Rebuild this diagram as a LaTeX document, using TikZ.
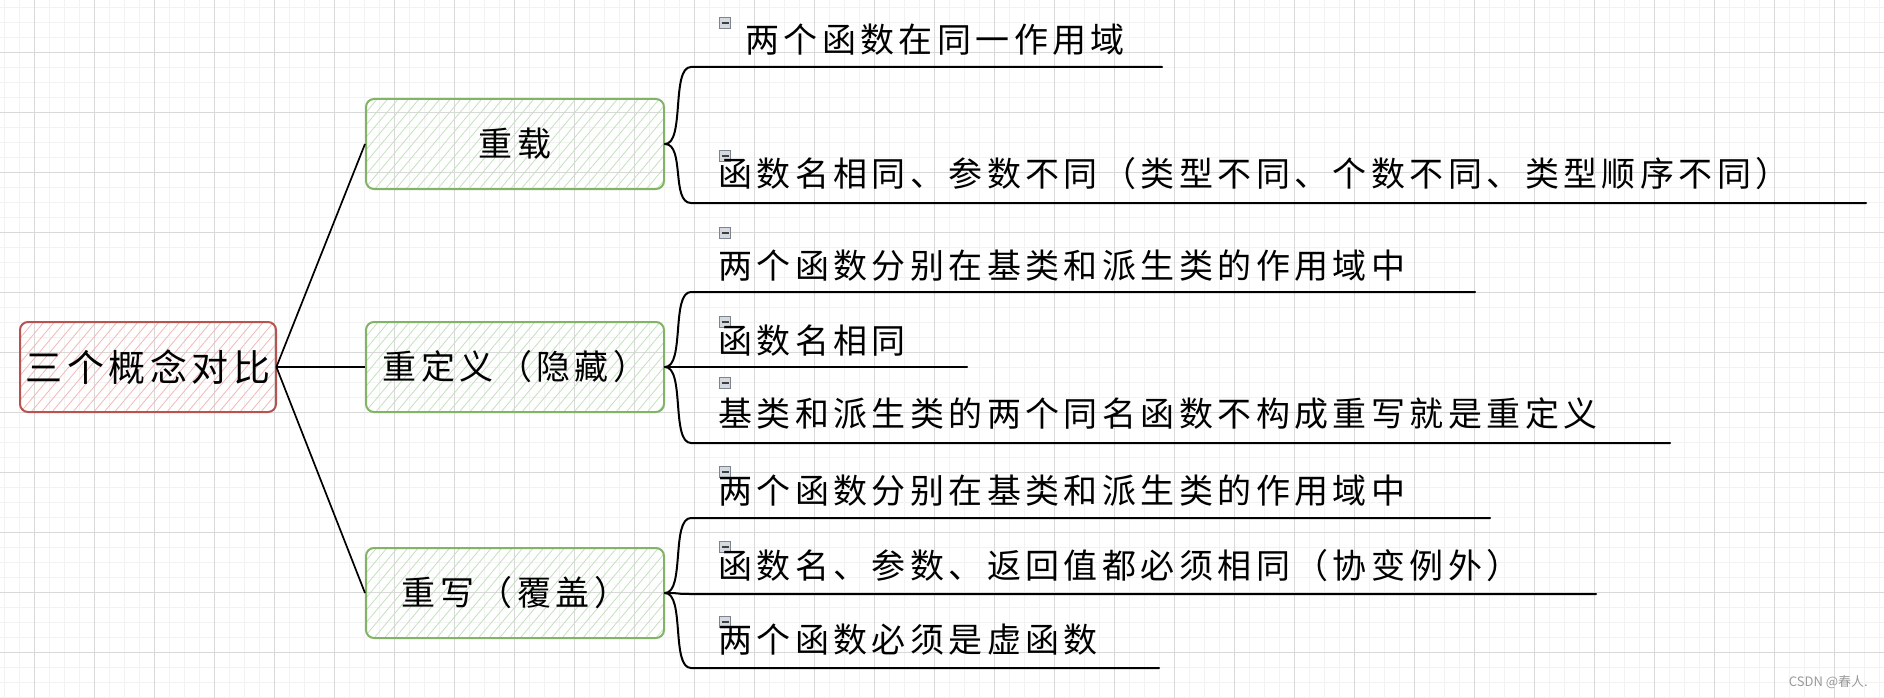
\documentclass[tikz,border=0pt]{standalone}
\usepackage{fontspec}
\newfontfamily\cjk[LetterSpace=13]{Noto Sans CJK SC}
\newfontfamily\cjkroot[LetterSpace=12]{Noto Sans CJK SC}
\newfontfamily\cjkplain{Noto Sans CJK SC}
\usepackage{tikz}
\usetikzlibrary{patterns.meta}

\definecolor{rootred}{HTML}{B85450}
\definecolor{roothatch}{HTML}{F0B8B6}
\definecolor{leafgreen}{HTML}{82B366}
\definecolor{leafhatch}{HTML}{C3E0BE}
\definecolor{gridmajor}{HTML}{D9D9D9}
\definecolor{gridminor}{HTML}{F2F2F2}
\definecolor{foldgray}{HTML}{7E848E}
\definecolor{foldfill}{HTML}{D5D9E0}

\tikzset{
  rootbox/.style={draw=rootred, line width=2pt, rounded corners=8pt,
    pattern={Lines[angle=50,distance=8pt,line width=0.8pt]}, pattern color=roothatch,
    minimum width=256pt, minimum height=90pt, inner sep=0pt,
    font=\cjkroot\fontsize{37}{42}\selectfont},
  conceptbox/.style={draw=leafgreen, line width=2pt, rounded corners=8pt,
    pattern={Lines[angle=50,distance=8pt,line width=0.8pt]}, pattern color=leafhatch,
    minimum width=298pt, minimum height=90pt, inner sep=0pt,
    font=\cjk\fontsize{34}{40}\selectfont},
  leaf/.style={anchor=west, inner sep=0pt, font=\cjk\fontsize{34}{40}\selectfont},
  fold/.style={draw=foldgray, fill=foldfill, minimum size=11pt, inner sep=0pt, line width=0.8pt,
    path picture={\draw[line width=1.5pt, black!75]
      ([xshift=-3.5pt]path picture bounding box.center) -- ([xshift=3.5pt]path picture bounding box.center);}},
  stem/.style={line width=1.7pt},
  branch/.style={line width=2pt, line cap=round},
  wmtext/.style={anchor=east, inner sep=0pt, text=black!40, font=\cjkplain\fontsize{13}{15}\selectfont}
}

\begin{document}
\begin{tikzpicture}[x=1pt,y=-1pt]
\useasboundingbox (0,0) rectangle (1884,698);
% grid
\foreach \gx in {4.7,19.7,...,1884} \draw[gridminor, line width=1pt] (\gx,0) -- (\gx,698);
\foreach \gy in {7.3,22.3,...,698} \draw[gridminor, line width=1pt] (0,\gy) -- (1884,\gy);
\foreach \gx in {34.7,94.7,...,1884} \draw[gridmajor, line width=1pt] (\gx,0) -- (\gx,698);
\foreach \gy in {52.3,112.3,...,698} \draw[gridmajor, line width=1pt] (0,\gy) -- (1884,\gy);

% main nodes
\node[rootbox] (root) at (148,367) {三个概念对比};
\node[conceptbox] (zz) at (515,144) {重载};
\node[conceptbox] (cdy) at (515,367) {重定义（隐藏）};
\node[conceptbox] (cx) at (515,593) {重写（覆盖）};
\draw[stem] (root.east) -- (zz.west);
\draw[stem] (root.east) -- (cdy.west);
\draw[stem] (root.east) -- (cx.west);

% 重载
\coordinate (zz1s) at (691,67);   \coordinate (zz1e) at (1162,67);
\coordinate (zz2s) at (691,203);  \coordinate (zz2e) at (1866,203);
\node[fold] (zz1m) at (725,23) {};
\node[fold] (zz2m) at (725,156) {};
\node[leaf] (zz1) at (745,40) {两个函数在同一作用域};
\node[leaf] (zz2) at (718,174) {函数名相同、参数不同（类型不同、个数不同、类型顺序不同）};
\draw[branch] (zz.east) .. controls +(20,0) and +(-20,0) .. (zz1s) -- (zz1e);
\draw[branch] (zz.east) .. controls +(20,0) and +(-20,0) .. (zz2s) -- (zz2e);

% 重定义
\coordinate (cdy1s) at (691,292); \coordinate (cdy1e) at (1475,292);
\coordinate (cdy2s) at (691,367); \coordinate (cdy2e) at (967,367);
\coordinate (cdy3s) at (691,443); \coordinate (cdy3e) at (1670,443);
\node[fold] (cdy1m) at (725,233) {};
\node[fold] (cdy2m) at (725,322) {};
\node[fold] (cdy3m) at (725,383) {};
\node[leaf] (cdy1) at (718,266) {两个函数分别在基类和派生类的作用域中};
\node[leaf] (cdy2) at (718,341) {函数名相同};
\node[leaf] (cdy3) at (718,414) {基类和派生类的两个同名函数不构成重写就是重定义};
\draw[branch] (cdy.east) .. controls +(20,0) and +(-20,0) .. (cdy1s) -- (cdy1e);
\draw[branch] (cdy.east) .. controls +(20,0) and +(-20,0) .. (cdy2s) -- (cdy2e);
\draw[branch] (cdy.east) .. controls +(20,0) and +(-20,0) .. (cdy3s) -- (cdy3e);

% 重写
\coordinate (cx1s) at (691,518); \coordinate (cx1e) at (1490,518);
\coordinate (cx2s) at (691,594); \coordinate (cx2e) at (1596,594);
\coordinate (cx3s) at (691,668); \coordinate (cx3e) at (1159,668);
\node[fold] (cx1m) at (725,472) {};
\node[fold] (cx2m) at (725,547) {};
\node[fold] (cx3m) at (725,622) {};
\node[leaf] (cx1) at (718,491) {两个函数分别在基类和派生类的作用域中};
\node[leaf] (cx2) at (718,566) {函数名、参数、返回值都必须相同（协变例外）};
\node[leaf] (cx3) at (718,640) {两个函数必须是虚函数};
\draw[branch] (cx.east) .. controls +(20,0) and +(-20,0) .. (cx1s) -- (cx1e);
\draw[branch] (cx.east) .. controls +(20,0) and +(-20,0) .. (cx2s) -- (cx2e);
\draw[branch] (cx.east) .. controls +(20,0) and +(-20,0) .. (cx3s) -- (cx3e);

\node[wmtext] (wm) at (1868,682) {CSDN @春人.};
\end{tikzpicture}
\end{document}
